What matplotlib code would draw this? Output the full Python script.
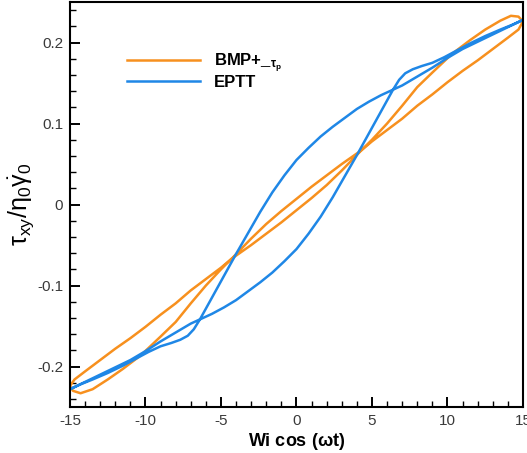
import matplotlib
matplotlib.use("Agg")
import matplotlib.pyplot as plt
from matplotlib.ticker import MultipleLocator

plt.rcParams['font.family'] = ['Liberation Sans', 'DejaVu Sans']
plt.rcParams['mathtext.fontset'] = 'custom'
plt.rcParams['mathtext.rm'] = 'Liberation Sans'
plt.rcParams['mathtext.it'] = 'Liberation Sans'
plt.rcParams['mathtext.bf'] = 'Liberation Sans:bold'
plt.rcParams['mathtext.default'] = 'regular'

# BMP+_tau_p loop (traced as one closed path)
bmp_x = [15.0, 14.7, 14.2, 13.5, 12.5, 11.5, 10.3, 9.0, 8.0, 7.0, 6.0, 5.0, 4.3,
         3.0, 2.0, 1.0, 0.0, -1.0, -2.0, -3.0, -4.3,
         -5.0, -6.0, -7.0, -8.0, -9.0, -10.0, -11.0, -12.0, -13.0, -14.0, -14.7, -15.0,
         -14.8, -14.3, -13.5, -12.5, -11.5, -10.3, -9.0, -8.0, -7.0, -6.0, -5.0, -4.3,
         -3.0, -2.0, -1.0, 0.0, 1.0, 2.0, 3.0, 4.3,
         5.0, 6.0, 7.0, 8.0, 9.0, 10.0, 11.0, 12.0, 13.0, 14.0, 14.7, 15.0]
bmp_y = [0.226, 0.232, 0.233, 0.227, 0.216, 0.203, 0.186, 0.163, 0.145, 0.122, 0.100, 0.080, 0.067,
         0.042, 0.024, 0.008, -0.007, -0.022, -0.036, -0.050, -0.067,
         -0.078, -0.092, -0.106, -0.122, -0.136, -0.151, -0.165, -0.178, -0.192, -0.206, -0.216, -0.224,
         -0.230, -0.233, -0.228, -0.216, -0.203, -0.186, -0.163, -0.145, -0.122, -0.100, -0.080, -0.067,
         -0.042, -0.024, -0.008, 0.007, 0.022, 0.036, 0.050, 0.067,
         0.078, 0.092, 0.106, 0.122, 0.136, 0.151, 0.165, 0.178, 0.192, 0.206, 0.216, 0.226]

# EPTT loop: right lobe (upper), central lower arc, left lobe, central upper arc, right lobe (lower)
eptt_x = [15.0, 14.3, 13.5, 12.5, 11.5, 10.6, 9.8, 9.0, 8.3, 7.7, 7.2, 6.8, 6.4,
          5.6, 4.8, 4.0, 3.2, 2.4, 1.6, 0.8, 0.0, -0.8, -1.6, -2.4, -3.2, -4.0, -4.8, -5.6, -6.3,
          -7.0, -8.0, -9.0, -10.0, -11.0, -12.0, -13.0, -14.0, -15.0,
          -14.3, -13.5, -12.5, -11.5, -10.6, -9.8, -9.0, -8.3, -7.7, -7.2, -6.8, -6.4,
          -5.6, -4.8, -4.0, -3.2, -2.4, -1.6, -0.8, 0.0, 0.8, 1.6, 2.4, 3.2, 4.0, 4.8, 5.6, 6.3,
          7.0, 8.0, 9.0, 10.0, 11.0, 12.0, 13.0, 14.0, 15.0]
eptt_y = [0.228, 0.222, 0.216, 0.208, 0.199, 0.190, 0.182, 0.175, 0.171, 0.167, 0.162, 0.154, 0.142,
          0.115, 0.088, 0.061, 0.035, 0.009, -0.015, -0.036, -0.055, -0.070, -0.084, -0.096, -0.107, -0.118, -0.127, -0.135, -0.141,
          -0.147, -0.158, -0.169, -0.181, -0.192, -0.201, -0.210, -0.219, -0.228,
          -0.222, -0.216, -0.208, -0.199, -0.190, -0.182, -0.175, -0.171, -0.167, -0.162, -0.154, -0.142,
          -0.115, -0.088, -0.061, -0.035, -0.009, 0.015, 0.036, 0.055, 0.070, 0.084, 0.096, 0.107, 0.118, 0.127, 0.135, 0.141,
          0.147, 0.158, 0.169, 0.181, 0.192, 0.201, 0.210, 0.219, 0.228]

orange = '#f7901e'
blue = '#1f87e6'

fig = plt.figure(figsize=(5.27, 4.53), dpi=100)
ax = fig.add_axes([0.1328, 0.1015, 0.8596, 0.894])

ax.plot(bmp_x, bmp_y, color=orange, lw=1.8, label=r'BMP+_$_{\tau_p}$')
ax.plot(eptt_x, eptt_y, color=blue, lw=1.8, label='EPTT')

ax.set_xlim(-15, 15)
ax.set_ylim(-0.25, 0.25)
ax.xaxis.set_minor_locator(MultipleLocator(1))
ax.yaxis.set_minor_locator(MultipleLocator(0.02))
ax.set_xticks([-15, -10, -5, 0, 5, 10, 15])
ax.set_xticklabels(['-15', '-10', '-5', '0', '5', '10', '15'])
ax.set_yticks([-0.2, -0.1, 0, 0.1, 0.2])
ax.set_yticklabels(['-0.2', '-0.1', '0', '0.1', '0.2'])

ax.tick_params(which='major', direction='in', length=7, width=1.4,
               labelsize=11, labelcolor='#3a3a3a', pad=5)
ax.tick_params(which='minor', direction='in', length=4, width=1.0)
for s in ax.spines.values():
    s.set_linewidth(1.5)

ax.set_xlabel(r'Wi cos ($\omega$t)', fontsize=13, fontweight='bold', labelpad=2)
ax.set_ylabel(r'$\tau_{xy}/\eta_0\dot{\gamma}_0$', fontsize=18, labelpad=1)

ax.legend(loc='upper left', bbox_to_anchor=(0.126, 0.878), frameon=False,
          handlelength=4.4, handletextpad=0.8, labelspacing=0.0,
          borderpad=0, borderaxespad=0,
          prop={'size': 12, 'weight': 'bold'})

fig.savefig('out.png', dpi=100)
